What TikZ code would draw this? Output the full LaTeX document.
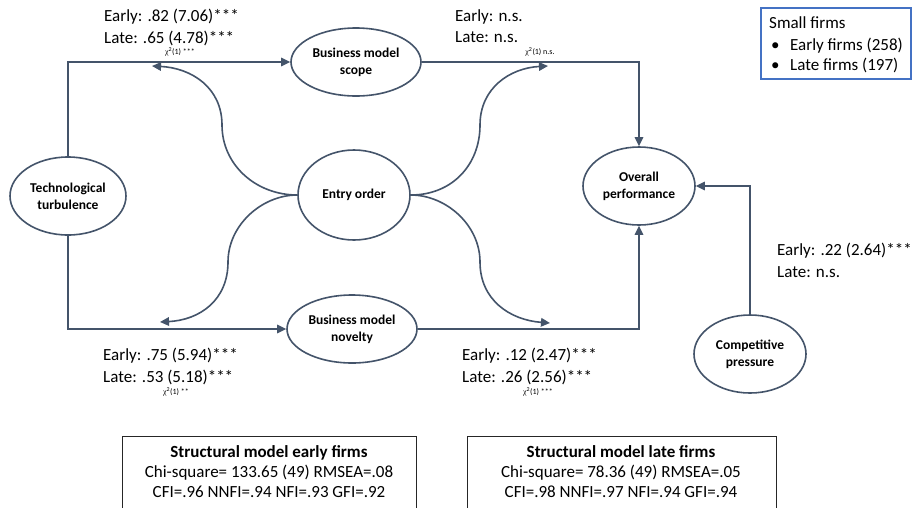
\documentclass[tikz,border=0pt]{standalone}
\usepackage{fontspec}
\setmainfont{Carlito}
\newfontfamily\chifont{Liberation Serif}
\usetikzlibrary{shapes.geometric,arrows.meta}
\definecolor{ln}{HTML}{44546A}
\definecolor{lg}{HTML}{4472C4}
\begin{document}
\begin{tikzpicture}[x=1pt,y=-1pt,
  lat/.style={ellipse,draw=ln,line width=1.6pt,inner sep=0pt,font=\fontsize{13.5}{17}\selectfont\bfseries,align=center,text=black},
  arr/.style={draw=ln,line width=1.6pt,-{Triangle[length=9pt,width=8.5pt]}},
  lbl/.style={font=\fontsize{17}{21}\selectfont,anchor=base west,inner sep=0pt},
  chi/.style={font=\fontsize{8}{9}\selectfont,anchor=base,inner sep=0pt},
  boxt/.style={font=\fontsize{17}{20}\selectfont,anchor=base,inner sep=0pt}]
\path[use as bounding box] (0,0) rectangle (912,507);
\fill[white] (0,0) rectangle (912,507);
% latent variables
\node[lat,minimum width=116pt,minimum height=78pt] (tt) at (68,196) {Technological\\turbulence};
\node[lat,minimum width=112pt,minimum height=90pt] (eo) at (354,195) {Entry order};
\node[lat,minimum width=130pt,minimum height=68pt] (bms) at (356,62) {Business model\\scope};
\node[lat,minimum width=130pt,minimum height=68pt] (bmn) at (352,329) {Business model\\novelty};
\node[lat,minimum width=112pt,minimum height=78pt] (op) at (639,186) {Overall\\performance};
\node[lat,minimum width=112pt,minimum height=78pt] (cp) at (750,354) {Competitive\\pressure};
% paths
\draw[arr] (tt.north) |- (bms.west);
\draw[arr] (bms.east) -| (op.north);
\draw[arr] (tt.south) |- (bmn.west);
\draw[arr] (bmn.east) -| (op.south);
\draw[arr] (cp.north) |- (op.east);
% entry order curves
\coordinate (ul) at (152,66);
\coordinate (ll) at (160,322);
\coordinate (ur) at (548,66);
\coordinate (lr) at (550,323);
\draw[arr] (eo.west) .. controls (256,195) and (222,165) .. (222,125) .. controls (222,88) and (192,68) .. (ul);
\draw[arr] (eo.west) .. controls (262,195) and (228,225) .. (228,262) .. controls (228,300) and (200,320) .. (ll);
\draw[arr] (eo.east) .. controls (452,195) and (480,165) .. (480,125) .. controls (480,88) and (510,68) .. (ur);
\draw[arr] (eo.east) .. controls (446,195) and (480,225) .. (480,262) .. controls (480,300) and (510,320) .. (lr);
% labels
\node[lbl] (e1) at (104,21) {Early: .82 (7.06)***};
\node[lbl] (l1) at (104,43) {Late: .65 (4.78)***};
\node[chi] (c1) at (180,54) {{\chifont χ}\textsuperscript{2}(1) ***};
\node[lbl] (e2) at (455,21) {Early: n.s.};
\node[lbl] (l2) at (455,42) {Late: n.s.};
\node[chi] (c2) at (540,54) {{\chifont χ}\textsuperscript{2}(1) n.s.};
\node[lbl] (e3) at (103,360) {Early: .75 (5.94)***};
\node[lbl] (l3) at (103,382) {Late: .53 (5.18)***};
\node[chi] (c3) at (176,394) {{\chifont χ}\textsuperscript{2}(1) **};
\node[lbl] (e4) at (462,360) {Early: .12 (2.47)***};
\node[lbl] (l4) at (462,382) {Late: .26 (2.56)***};
\node[chi] (c4) at (538,394) {{\chifont χ}\textsuperscript{2}(1) ***};
\node[lbl] (e5) at (777,255) {Early: .22 (2.64)***};
\node[lbl] (l5) at (777,277) {Late: n.s.};
% legend
\draw[lg,line width=1.2pt] (761,8) rectangle (911,79);
\node[lbl] (s0) at (769,28) {Small firms};
\node[lbl] (b1) at (771,50) {•};
\node[lbl] (s1) at (790,50) {Early firms (258)};
\node[lbl] (b2) at (771,70) {•};
\node[lbl] (s2) at (790,70) {Late firms (197)};
% fit boxes
\draw[black!85,line width=1pt] (122,436) rectangle (416,520);
\draw[black!85,line width=1pt] (467,436) rectangle (776,520);
\node[boxt,font=\fontsize{17}{20}\selectfont\bfseries] (t1) at (269,457) {Structural model early firms};
\node[boxt] (t2) at (269,477) {Chi-square= 133.65 (49) RMSEA=.08};
\node[boxt] (t3) at (269,497) {CFI=.96 NNFI=.94 NFI=.93 GFI=.92};
\node[boxt,font=\fontsize{17}{20}\selectfont\bfseries] (r1) at (621,457) {Structural model late firms};
\node[boxt] (r2) at (621,477) {Chi-square= 78.36 (49) RMSEA=.05};
\node[boxt] (r3) at (621,497) {CFI=.98 NNFI=.97 NFI=.94 GFI=.94};
\end{tikzpicture}
\end{document}
